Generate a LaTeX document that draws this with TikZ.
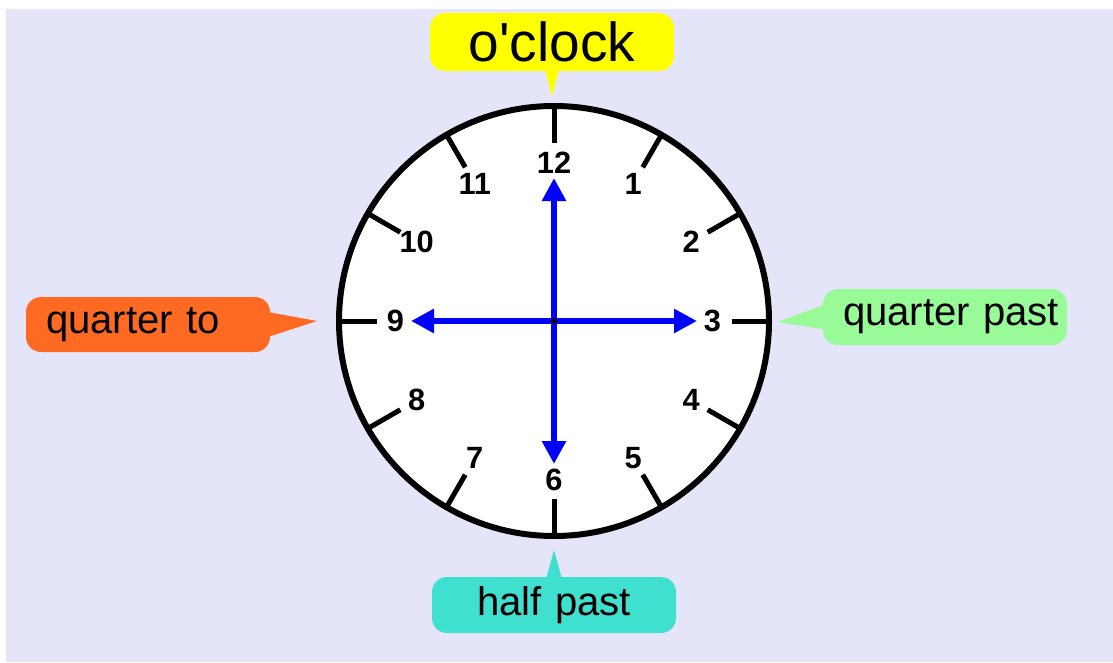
\documentclass[tikz,border=0pt]{standalone}
\usepackage{fontspec}
\setmainfont{Liberation Sans}
\usepackage{xcolor}
\usepackage{tikz}
\usetikzlibrary{arrows.meta,calc,positioning}
\definecolor{backdrop}{HTML}{E4E5F9}
\definecolor{handblue}{HTML}{0000FF}
\definecolor{topfill}{HTML}{FFFF00}
\definecolor{leftfill}{HTML}{FF6A22}
\definecolor{rightfill}{HTML}{98FB98}
\definecolor{bottomfill}{HTML}{40E0D0}
\tikzset{
  face/.style={circle, draw=black, line width=0.12cm, fill=white, minimum size=8.6cm, inner sep=0pt},
  tickline/.style={line width=0.1cm, draw=black},
  numeral/.style={font=\fontsize{17.5}{20}\selectfont\bfseries, inner sep=0pt},
  clockhand/.style={line width=0.13cm, draw=handblue, -{Triangle[length=0.46cm,width=0.46cm]}},
  pin/.style={circle, fill=black, minimum size=0.12cm, inner sep=0pt},
  bubble/.style={
    rounded corners=0.3cm,
    inner xsep=0.4cm,
    inner ysep=0pt,
    minimum height=1.12cm,
    text width=4.08cm,
    font=\fontsize{22.8}{26}\selectfont
  }
}

\begin{document}
\begin{tikzpicture}[x=1cm,y=1cm]
\path[use as bounding box] (0,0) rectangle (22.26,13.24);
\fill[white] (0,0) rectangle (22.26,13.24);
\fill[backdrop] (0.12,0) rectangle (22.26,13.06);

% clock face
\node[face] (dial) at (11.08,6.82) {};
\coordinate (c) at (dial.center);
\foreach \h in {1,...,12} {
  \draw[tickline] ($(c)+(90-30*\h:4.3)$) -- ($(c)+(90-30*\h:3.55)$);
  \node[numeral] (n\h) at ($(c)+(90-30*\h:3.17)$) {\h};
}

% hands
\coordinate (up) at ($(c)+(0,2.86)$);
\coordinate (down) at ($(c)+(0,-2.86)$);
\coordinate (left) at ($(c)+(-2.86,0)$);
\coordinate (right) at ($(c)+(2.86,0)$);
\draw[clockhand] (c) -- (up);
\draw[clockhand] (c) -- (right);
\draw[clockhand] (c) -- (down);
\draw[clockhand] (c) -- (left);
\node[pin] (hub) at (c) {};

% callouts
\node[bubble, fill=topfill, align=center, minimum height=1.16cm, font=\fontsize{31.3}{34}\selectfont] (oclock) at (11.04,12.40) {o\textquotesingle clock};
\coordinate (topTip) at (11.04,11.30);
\fill[topfill] ($(oclock.south)+(-0.14,0.05)$) -- (topTip) -- ($(oclock.south)+(0.14,0.05)$) -- cycle;

\node[bubble, fill=leftfill, align=left, minimum height=1.10cm] (quarterto) at (2.96,6.75) {quarter to};
\coordinate (leftTip) at (6.34,6.82);
\fill[leftfill] ($(quarterto.east)+(-0.05,0.25)$) -- (leftTip) -- ($(quarterto.east)+(-0.05,-0.25)$) -- cycle;

\node[bubble, fill=rightfill, align=left] (quarterpast) at (18.90,6.90) {\mbox{quarter past}};
\coordinate (rightTip) at (15.56,6.80);
\fill[rightfill] ($(quarterpast.west)+(0.05,0.25)$) -- (rightTip) -- ($(quarterpast.west)+(0.05,-0.25)$) -- cycle;

\node[bubble, fill=bottomfill, align=center] (halfpast) at (11.08,1.14) {half past};
\coordinate (bottomTip) at (11.08,2.24);
\fill[bottomfill] ($(halfpast.north)+(-0.16,-0.05)$) -- (bottomTip) -- ($(halfpast.north)+(0.16,-0.05)$) -- cycle;
\end{tikzpicture}
\end{document}
